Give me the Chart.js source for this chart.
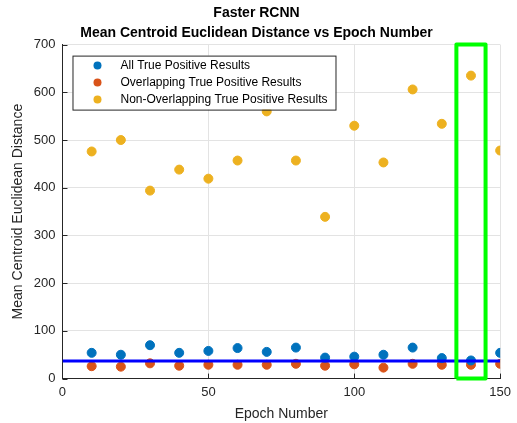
<!DOCTYPE html>
<html>
<head>
<meta charset="utf-8">
<script src="https://cdn.jsdelivr.net/npm/chart.js@4"></script>
<style>
  html, body { margin: 0; padding: 0; background: #fff; }
  #wrap { width: 517px; height: 423px; }
</style>
</head>
<body>
<div id="wrap"><canvas id="chart" width="517" height="423"></canvas></div>
<script>
const epochs = [10, 20, 30, 40, 50, 60, 70, 80, 90, 100, 110, 120, 130, 140, 150];
const allTP = [54, 50, 70, 54, 58, 64, 56, 65, 44, 46, 50, 65, 43, 38, 54];
const overlapTP = [26, 25, 32, 27, 29, 29, 29, 31, 27, 30, 23, 31, 29, 29, 31];
const nonOverlapTP = [476, 500, 394, 438, 419, 457, 560, 457, 339, 530, 453, 606, 534, 635, 478];
const meanLineY = 37;
const highlightX = [135, 145];
const seriesNames = ['All True Positive Results', 'Overlapping True Positive Results', 'Non-Overlapping True Positive Results'];
const seriesColors = ['#0072BD', '#D95319', '#EDB120'];

const FONT = "'Liberation Sans', Arial, sans-serif";
const TEXT = '#262626';

function pts(ys) {
  return epochs.map((x, i) => ({ x, y: ys[i] }));
}

// MATLAB-style inward tick marks
const innerTicks = {
  id: 'innerTicks',
  afterDraw(chart) {
    const { ctx, chartArea, scales } = chart;
    ctx.save();
    ctx.strokeStyle = '#262626';
    ctx.lineWidth = 1;
    ctx.beginPath();
    scales.y.ticks.forEach(t => {
      const py = Math.round(scales.y.getPixelForValue(t.value)) + 0.5;
      ctx.moveTo(chartArea.left, py);
      ctx.lineTo(chartArea.left + 5, py);
    });
    scales.x.ticks.forEach(t => {
      const px = Math.round(scales.x.getPixelForValue(t.value)) + 0.5;
      ctx.moveTo(px, chartArea.bottom);
      ctx.lineTo(px, chartArea.bottom - 5);
    });
    ctx.stroke();
    ctx.restore();
  }
};

const legendBox = {
  id: 'legendBox',
  afterDatasetsDraw(chart) {
    const { ctx, chartArea } = chart;
    const x = chartArea.left + 10, y = chartArea.top + 11, w = 263, h = 54;
    ctx.save();
    ctx.fillStyle = '#fff';
    ctx.fillRect(x, y, w, h);
    ctx.strokeStyle = '#262626';
    ctx.lineWidth = 1;
    ctx.strokeRect(x + 0.5, y + 0.5, w, h);
    ctx.font = '12px ' + FONT;
    ctx.textBaseline = 'middle';
    seriesNames.forEach((name, i) => {
      const cy = y + 10 + i * 17;
      ctx.fillStyle = seriesColors[i];
      ctx.beginPath();
      ctx.arc(x + 25, cy, 4, 0, Math.PI * 2);
      ctx.fill();
      ctx.fillStyle = '#000';
      ctx.fillText(name, x + 48, cy);
    });
    ctx.restore();
  }
};

new Chart(document.getElementById('chart'), {
  type: 'scatter',
  data: {
    datasets: [
      {
        label: seriesNames[0],
        data: pts(allTP),
        backgroundColor: seriesColors[0],
        borderColor: seriesColors[0],
        pointRadius: 4.5,
        order: 3
      },
      {
        label: seriesNames[1],
        data: pts(overlapTP),
        backgroundColor: seriesColors[1],
        borderColor: seriesColors[1],
        pointRadius: 4.5,
        order: 3
      },
      {
        label: seriesNames[2],
        data: pts(nonOverlapTP),
        backgroundColor: seriesColors[2],
        borderColor: seriesColors[2],
        pointRadius: 4.5,
        order: 3
      },
      {
        label: 'mean',
        data: [{ x: 0, y: meanLineY }, { x: 150, y: meanLineY }],
        showLine: true,
        borderColor: '#0000FF',
        borderWidth: 3,
        pointRadius: 0,
        order: 2
      },
      {
        label: 'highlight',
        data: [
          { x: highlightX[0], y: 0 }, { x: highlightX[0], y: 700 },
          { x: highlightX[1], y: 700 }, { x: highlightX[1], y: 0 },
          { x: highlightX[0], y: 0 }
        ],
        showLine: true,
        borderColor: '#00FF00',
        borderWidth: 4,
        borderJoinStyle: 'round',
        pointRadius: 0,
        clip: false,
        order: 1
      }
    ]
  },
  options: {
    responsive: false,
    animation: false,
    layout: { padding: { left: 10, right: 14, top: 0, bottom: 0 } },
    plugins: {
      legend: { display: false },
      tooltip: { enabled: false },
      title: {
        display: true,
        text: ['Faster RCNN', 'Mean Centroid Euclidean Distance vs Epoch Number'],
        color: '#000',
        font: { family: FONT, size: 14, weight: 'bold', lineHeight: 1.45 },
        padding: { top: 3, bottom: 1 }
      }
    },
    scales: {
      x: {
        type: 'linear',
        min: 0,
        max: 150,
        ticks: { stepSize: 50, color: TEXT, font: { family: FONT, size: 13 }, padding: 6 },
        grid: { color: '#e3e3e3', tickLength: 0 },
        border: { color: '#262626' },
        title: { display: true, text: 'Epoch Number', color: TEXT, font: { family: FONT, size: 14 }, padding: { top: 0, bottom: 0 } }
      },
      y: {
        min: 0,
        max: 700,
        ticks: { stepSize: 100, color: TEXT, font: { family: FONT, size: 13 }, padding: 7 },
        grid: { color: '#e3e3e3', tickLength: 0 },
        border: { color: '#262626' },
        title: { display: true, text: 'Mean Centroid Euclidean Distance', color: TEXT, font: { family: FONT, size: 14 }, padding: { top: 0, bottom: 0 } }
      }
    }
  },
  plugins: [legendBox, innerTicks]
});
</script>
</body>
</html>
